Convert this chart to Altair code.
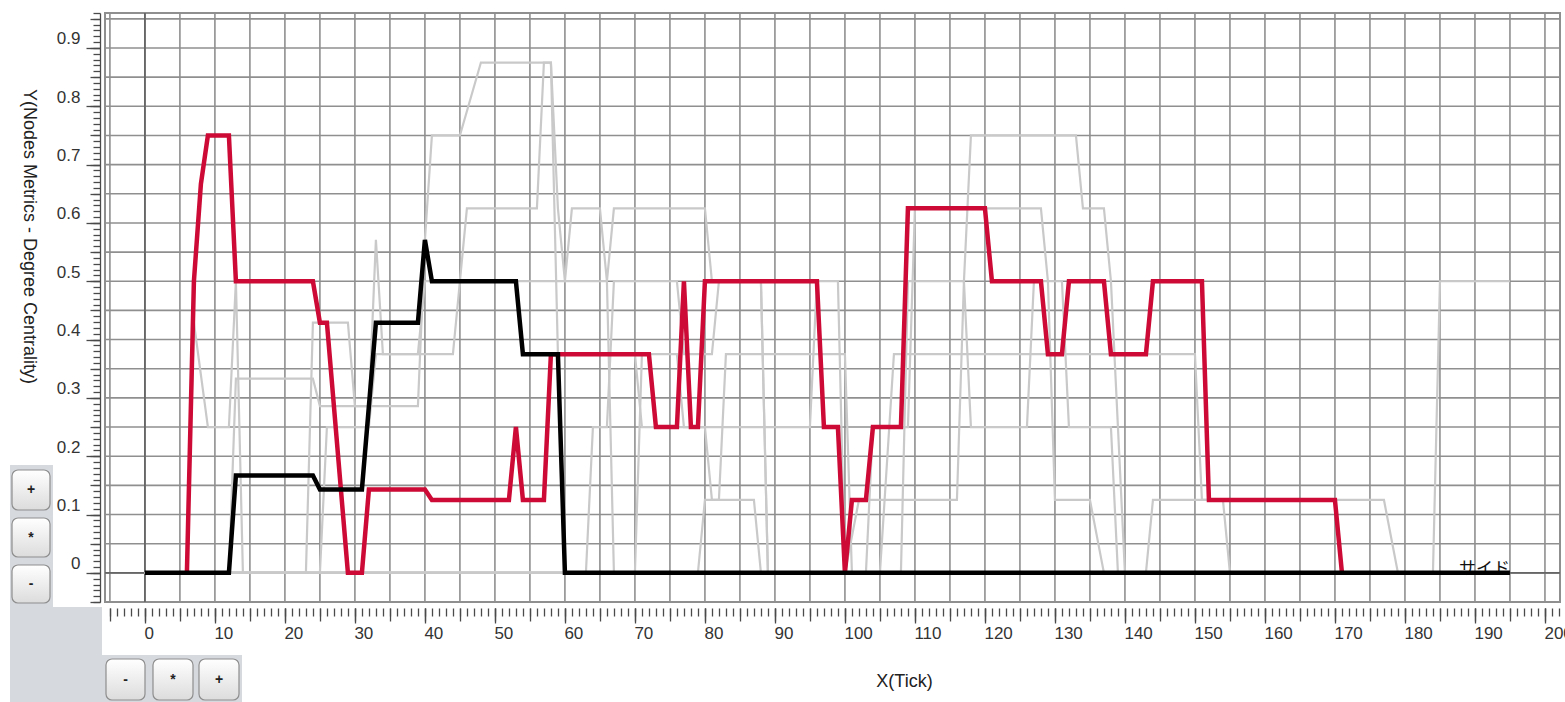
import altair as alt
import pandas as pd

FONT = "Liberation Sans"

# ---------------- data ----------------
red_x = [6, 7, 8, 9, 12, 13, 24, 25, 26, 29, 31, 32, 40, 41, 52, 53, 54, 57, 58,
         72, 73, 76, 77, 78, 79, 80, 96, 97, 99, 100, 101, 103, 104, 108, 109, 120,
         121, 128, 129, 131, 132, 137, 138, 143, 144, 151, 152, 170, 171]
red_y = [0, 0.5, 0.667, 0.75, 0.75, 0.5, 0.5, 0.429, 0.429, 0, 0, 0.143, 0.143,
         0.125, 0.125, 0.25, 0.125, 0.125, 0.375, 0.375, 0.25, 0.25, 0.5, 0.25, 0.25,
         0.5, 0.5, 0.25, 0.25, 0, 0.125, 0.125, 0.25, 0.25, 0.625, 0.625, 0.5, 0.5,
         0.375, 0.375, 0.5, 0.5, 0.375, 0.375, 0.5, 0.5, 0.125, 0.125, 0]

black_x = [0, 12, 13, 24, 25, 31, 33, 39, 40, 41, 53, 54, 59, 60, 195]
black_y = [0, 0, 0.167, 0.167, 0.143, 0.143, 0.429, 0.429, 0.571, 0.5, 0.5, 0.375,
           0.375, 0, 0]

g1_x = [0, 12, 13, 24, 25, 39, 40, 41, 45, 48, 58, 59, 60, 66, 67, 195]
g1_y = [0, 0, 0.333, 0.333, 0.286, 0.286, 0.571, 0.75, 0.75, 0.875, 0.875, 0.625, 0.5, 0.5, 0, 0]
g2_x = [0, 23, 24, 29, 30, 32, 33, 34, 44, 45, 46, 56, 57, 58, 59, 70, 71, 80, 81, 87, 88, 195]
g2_y = [0, 0, 0.429, 0.429, 0.286, 0.286, 0.571, 0.375, 0.375, 0.5, 0.625, 0.625, 0.875,
        0.875, 0.375, 0.375, 0.25, 0.25, 0.125, 0.125, 0, 0]
g3_x = [0, 6, 7, 9, 12, 13, 14, 195]
g3_y = [0, 0, 0.429, 0.25, 0.25, 0.5, 0, 0]
g4_x = [0, 25, 26, 32, 33, 39, 40, 60, 61, 65, 66, 67, 80, 81, 88, 89, 195]
g4_y = [0, 0, 0.25, 0.25, 0.375, 0.375, 0.5, 0.5, 0.625, 0.625, 0.5, 0.625, 0.625, 0.5, 0.5, 0, 0]
g5_x = [0, 63, 64, 66, 67, 76, 77, 81, 82, 88, 89, 195]
g5_y = [0, 0, 0.25, 0.25, 0.5, 0.5, 0.375, 0.375, 0.5, 0.5, 0, 0]
g6_x = [0, 70, 71, 76, 77, 95, 96, 99, 100, 195]
g6_y = [0, 0, 0.375, 0.375, 0.25, 0.25, 0.5, 0.5, 0, 0]
g7_x = [0, 79, 80, 82, 83, 100, 101, 195]
g7_y = [0, 0, 0.125, 0.125, 0.375, 0.375, 0, 0]
g8_x = [0, 100, 102, 116, 117, 118, 133, 134, 137, 138, 140, 195]
g8_y = [0, 0, 0.125, 0.125, 0.5, 0.75, 0.75, 0.625, 0.625, 0.5, 0, 0]
g9_x = [0, 103, 104, 109, 110, 128, 129, 131, 132, 138, 139, 195]
g9_y = [0, 0, 0.25, 0.25, 0.625, 0.625, 0.5, 0.5, 0.25, 0.25, 0, 0]
g10_x = [0, 105, 107, 150, 151, 154, 155, 195]
g10_y = [0, 0, 0.375, 0.375, 0.125, 0.125, 0, 0]
g11_x = [0, 108, 109, 117, 118, 126, 127, 129, 130, 135, 137, 195]
g11_y = [0, 0, 0.5, 0.5, 0.25, 0.25, 0.5, 0.5, 0.125, 0.125, 0, 0]
g12_x = [0, 143, 144, 177, 179, 195]
g12_y = [0, 0, 0.125, 0.125, 0, 0]
g13_x = [0, 184, 185, 195]
g13_y = [0, 0, 0.5, 0.5]

gray_series = [(g1_x, g1_y), (g2_x, g2_y), (g3_x, g3_y), (g4_x, g4_y), (g5_x, g5_y),
               (g6_x, g6_y), (g7_x, g7_y), (g8_x, g8_y), (g9_x, g9_y), (g10_x, g10_y),
               (g11_x, g11_y), (g12_x, g12_y), (g13_x, g13_y)]

end_label = "サイド"
end_label_x = [195]
end_label_y = [0]

x_minor = list(range(-5, 203))
x_five = list(range(-5, 201, 5))
x_ten = list(range(0, 201, 10))
y_minor = [round(-0.05 + 0.01 * i, 2) for i in range(102)]
y_five = [round(-0.05 + 0.05 * i, 2) for i in range(21)]
y_ten = [round(0.1 * i, 1) for i in range(10)]

# UI chrome of the original application (pixels relative to the plot area)
panel_x1 = [-95, -95, -3]
panel_x2 = [-52, -3, 137]
panel_y1 = [452, 594, 642]
panel_y2 = [689, 689, 689]
btn_label = ["+", "*", "-", "-", "*", "+"]
btn_x1 = [-93, -93, -93, 1, 48, 94]
btn_x2 = [-55, -55, -55, 40, 88, 134]
btn_y1 = [457, 505, 552, 646, 646, 646]
btn_y2 = [497, 544, 590, 687, 687, 687]

# ---------------- chart ----------------
xscale = alt.Scale(domain=[-5.7, 202.15], nice=False, zero=False)
yscale = alt.Scale(domain=[-0.05, 0.96], nice=False, zero=False)

gray_rows = []
for i, (xs, ys) in enumerate(gray_series):
    for xv, yv in zip(xs, ys):
        gray_rows.append({"s": f"g{i+1}", "x": xv, "y": yv})
gray_df = pd.DataFrame(gray_rows)
red_df = pd.DataFrame({"x": red_x, "y": red_y})
black_df = pd.DataFrame({"x": black_x, "y": black_y})

grid_x = alt.Chart(pd.DataFrame({"gx": x_five})).mark_rule(
    color="#8f8f8f", strokeWidth=1.6).encode(
    x=alt.X("gx:Q", scale=xscale, axis=None))
grid_y = alt.Chart(pd.DataFrame({"gy": y_five})).mark_rule(
    color="#8f8f8f", strokeWidth=1.6).encode(
    y=alt.Y("gy:Q", scale=yscale, axis=None))
zero_x = alt.Chart(pd.DataFrame({"zx": [0]})).mark_rule(
    color="#666666", strokeWidth=1.8).encode(
    x=alt.X("zx:Q", scale=xscale, axis=None))
zero_y = alt.Chart(pd.DataFrame({"zy": [0]})).mark_rule(
    color="#666666", strokeWidth=1.8).encode(
    y=alt.Y("zy:Q", scale=yscale, axis=None))

common_ax = dict(grid=False, domain=False, tickColor="#4a4a4a", tickWidth=1.3,
                 labelFont=FONT, titleFont=FONT)

axes_df = pd.DataFrame({"ax": [0.0], "ay": [0.0]})

ax_minor = alt.Chart(axes_df).mark_point(opacity=0).encode(
    x=alt.X("ax:Q", scale=xscale, title=None,
            axis=alt.Axis(orient="bottom", values=x_minor, tickSize=8, labels=False,
                          offset=6, **common_ax)),
    y=alt.Y("ay:Q", scale=yscale, title=None,
            axis=alt.Axis(orient="left", values=y_minor, tickSize=7, labels=False,
                          offset=5, **{**common_ax, "domain": True},
                          domainColor="#4a4a4a", domainWidth=1.3)))
ax_five = alt.Chart(axes_df).mark_point(opacity=0).encode(
    x=alt.X("ax:Q", scale=xscale, title=None,
            axis=alt.Axis(orient="bottom", values=x_five, tickSize=13, labels=False,
                          offset=6, **common_ax)),
    y=alt.Y("ay:Q", scale=yscale, title=None,
            axis=alt.Axis(orient="left", values=y_five, tickSize=10, labels=False,
                          offset=5, **common_ax)))
ax_ten = alt.Chart(axes_df).mark_point(opacity=0).encode(
    x=alt.X("ax:Q", scale=xscale, title="X(Tick)",
            axis=alt.Axis(orient="bottom", values=x_ten, tickSize=15, labels=True,
                          offset=6, labelAlign="left", labelOffset=-1, labelPadding=2,
                          labelFontSize=17, labelColor="#333333", labelBaseline="top",
                          titleFontSize=18, titleFontWeight="normal", titleColor="#222222",
                          titleX=799, titleY=73, titleAlign="center",
                          titleBaseline="middle", **common_ax)),
    y=alt.Y("ay:Q", scale=yscale, title="Y(Nodes Metrics - Degree Centrality)",
            axis=alt.Axis(orient="left", values=y_ten, tickSize=14, labels=True,
                          offset=5, labelPadding=6, labelFontSize=17,
                          labelColor="#333333", labelBaseline="bottom",
                          labelExpr="datum.value == 0 ? '0' : format(datum.value, '.1f')",
                          titleFontSize=18, titleFontWeight="normal", titleColor="#222222",
                          titleAngle=90, titleX=-72, titleY=223, titleAlign="center",
                          titleBaseline="middle", **common_ax)))

gray = alt.Chart(gray_df).mark_line(color="#c9c9c9", strokeWidth=2.2).encode(
    x=alt.X("x:Q", scale=xscale, axis=None),
    y=alt.Y("y:Q", scale=yscale, axis=None),
    detail="s:N")
red = alt.Chart(red_df).mark_line(color="#cc0a35", strokeWidth=4.5).encode(
    x=alt.X("x:Q", scale=xscale, axis=None),
    y=alt.Y("y:Q", scale=yscale, axis=None))
label = alt.Chart(pd.DataFrame({"x": end_label_x, "y": end_label_y, "t": [end_label]})).mark_text(
    align="right", baseline="bottom", dy=5, fontSize=17, font="Noto Sans CJK JP",
    color="#111111").encode(
    x=alt.X("x:Q", scale=xscale, axis=None),
    y=alt.Y("y:Q", scale=yscale, axis=None),
    text="t:N")
black = alt.Chart(black_df).mark_line(color="#000000", strokeWidth=4.5).encode(
    x=alt.X("x:Q", scale=xscale, axis=None),
    y=alt.Y("y:Q", scale=yscale, axis=None))

panel_df = pd.DataFrame({"x1": panel_x1, "x2": panel_x2, "y1": panel_y1, "y2": panel_y2})
panel = alt.Chart(panel_df).mark_rect(color="#d6d9de").encode(
    x=alt.X("x1:Q", scale=None, axis=None), x2="x2:Q",
    y=alt.Y("y1:Q", scale=None, axis=None), y2="y2:Q")

btn_df = pd.DataFrame({"x1": btn_x1, "x2": btn_x2, "y1": btn_y1, "y2": btn_y2,
                       "t": btn_label})
btn_df["cx"] = (btn_df["x1"] + btn_df["x2"]) / 2
btn_df["cy"] = (btn_df["y1"] + btn_df["y2"]) / 2
buttons = alt.Chart(btn_df).mark_rect(
    cornerRadius=6, stroke="#8e8e8e", strokeWidth=1.2,
    fill=alt.Gradient(gradient="linear", x1=0, x2=0, y1=0, y2=1,
                      stops=[alt.GradientStop(color="#ffffff", offset=0),
                             alt.GradientStop(color="#dcdcdc", offset=1)])).encode(
    x=alt.X("x1:Q", scale=None, axis=None), x2="x2:Q",
    y=alt.Y("y1:Q", scale=None, axis=None), y2="y2:Q")
btn_text = alt.Chart(btn_df).mark_text(fontSize=14, font=FONT, fontWeight="bold",
                                       color="#222222").encode(
    x=alt.X("cx:Q", scale=None, axis=None),
    y=alt.Y("cy:Q", scale=None, axis=None),
    text="t:N")

chart = alt.layer(
    grid_x, grid_y, zero_x, zero_y, ax_minor, ax_five, ax_ten,
    gray, red, label, black, panel, buttons, btn_text
).resolve_axis(x="independent", y="independent").properties(
    width=1455, height=589,
    autosize=alt.AutoSizeParams(type="none"),
    padding={"left": 105, "top": 13, "right": 5, "bottom": 100},
    background="#ffffff"
).configure_view(stroke="#8f8f8f", strokeWidth=2)

chart.save("out.html", embed_options={"renderer": "svg", "actions": False})
